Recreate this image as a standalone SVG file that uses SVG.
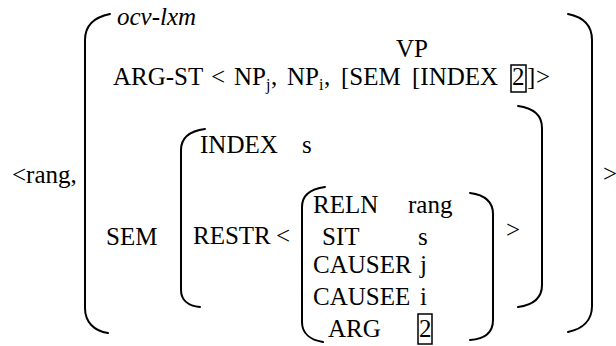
<svg xmlns="http://www.w3.org/2000/svg" width="616" height="346" viewBox="0 0 616 346" font-family="'Liberation Serif', 'Times New Roman', Times, serif">
  <style>
    text { font-family: 'Liberation Serif', 'Times New Roman', Times, serif; font-size: 25px; fill: #000; }
    .it { font-style: italic; }
    .sub { font-size: 16px; }
    .br { fill: none; stroke: #000; stroke-width: 2; stroke-linecap: round; }
    .tag { fill: none; stroke: #000; stroke-width: 1.5; }
  </style>
  <rect width="616" height="346" fill="#fff"/>

  <!-- outer AVM: type, bracket pair and the surrounding pair <rang, ... > -->
  <g id="outer-avm">
    <path class="br" d="M110,14 C95,17 85,25 85,40 L85,308 C85,322 94,331 108,333"/>
    <path class="br" d="M568,14 C583,17 592,25 592,40 L592,306 C592,320 583,329 568,332"/>
    <text x="12" y="183">&lt;rang,</text>
    <text x="603" y="182">&gt;</text>
    <text class="it" x="117" y="25">ocv-lxm</text>
  </g>

  <!-- ARG-ST feature -->
  <g id="arg-st">
    <text x="396" y="57">VP</text>
    <text x="113" y="85">ARG-ST</text>
    <text x="211" y="85">&lt;</text>
    <text x="234" y="85">NP</text>
    <text class="sub" x="266" y="90">j</text>
    <text x="271" y="85">,</text>
    <text x="287" y="85">NP</text>
    <text class="sub" x="319" y="90">i</text>
    <text x="324" y="85">,</text>
    <text x="341" y="85">[SEM</text>
    <text x="412" y="85">[INDEX</text>
    <rect class="tag" x="511" y="65" width="15" height="27"/>
    <text x="512" y="85">2</text>
    <text x="527" y="85">]</text>
    <text x="536" y="85">&gt;</text>
  </g>

  <!-- SEM feature with its INDEX / RESTR value -->
  <g id="sem">
    <text x="106" y="245">SEM</text>
    <path class="br" d="M205,129 C190,131 181,138 181,150 L181,290 C181,300 188,306 200,307"/>
    <path class="br" d="M518,106 C533,108 542,115 542,128 L542,285 C542,298 533,305 518,307"/>
    <text x="200" y="153">INDEX</text>
    <text x="302" y="153">s</text>
    <text x="193" y="244">RESTR</text>
    <text x="276" y="244">&lt;</text>
    <text x="506" y="238">&gt;</text>
  </g>

  <!-- RESTR predication -->
  <g id="restr">
    <path class="br" d="M325,187 C310,189 302,196 302,207 L302,322 C302,333 310,340 323,342"/>
    <path class="br" d="M470,193 C485,195 493,202 493,214 L493,320 C493,332 485,339 470,340"/>
    <text x="313" y="213">RELN</text>
    <text x="408" y="213">rang</text>
    <text x="322" y="245">SIT</text>
    <text x="418" y="245">s</text>
    <text x="313" y="273">CAUSER</text>
    <text x="420" y="273">j</text>
    <text x="313" y="305">CAUSEE</text>
    <text x="420" y="305">i</text>
    <text x="328" y="337">ARG</text>
    <rect class="tag" x="418" y="314" width="14" height="30"/>
    <text x="419" y="337">2</text>
  </g>
</svg>
